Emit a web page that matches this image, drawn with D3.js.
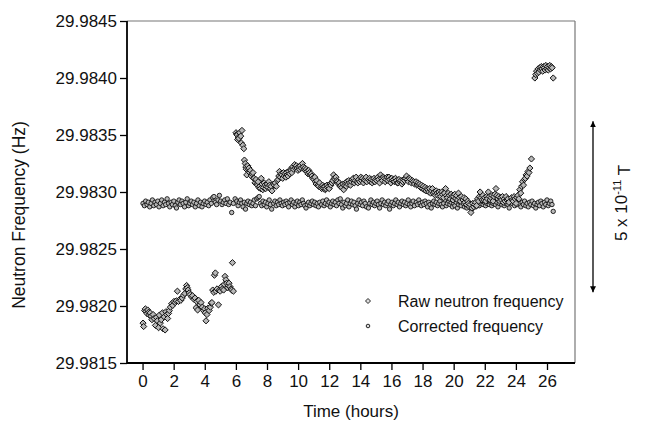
<!DOCTYPE html>
<html>
<head>
<meta charset="utf-8">
<script src="https://cdn.jsdelivr.net/npm/d3@7"></script>
<style>
  body { margin: 0; background: #fff; }
  svg text { font-family: "Liberation Sans", Arial, sans-serif; fill: #111; }
</style>
</head>
<body>
<svg id="chart" width="650" height="423"></svg>
<script>
// frequencies are kept as micro-Hz above BASE (29.98 Hz)
var BASE = 29.98;

// raw neutron frequency: [hours, uHz above base]
var rawData = [
  [0.03,1850],[0.07,1820],[0.14,1960],[0.18,1975],[0.22,1950],[0.28,1935],[0.33,1965],[0.39,1945],[0.44,1920],[0.49,1940],
  [0.55,1910],[0.60,1880],[0.68,1925],[0.75,1890],[0.83,1830],[0.89,1900],[0.95,1870],[1.03,1810],[1.08,1920],[1.14,1850],
  [1.20,1880],[1.28,1940],[1.32,1800],[1.39,1905],[1.45,1790],[1.50,1950],[1.56,1925],[1.61,1890],[1.67,1935],[1.72,1960],
  [1.79,1990],[1.87,2020],[1.94,2005],[2.02,2040],[2.10,2030],[2.17,2045],[2.24,2130],[2.31,2040],[2.40,2060],[2.46,2050],
  [2.55,2070],[2.63,2095],[2.72,2110],[2.78,2150],[2.83,2180],[2.88,2160],[2.93,2140],[3.00,2115],[3.06,2100],[3.15,2080],
  [3.21,2090],[3.29,2060],[3.37,2070],[3.44,1985],[3.48,2040],[3.54,1965],[3.61,2050],[3.69,2010],[3.76,2030],[3.84,1990],
  [3.92,1960],[3.99,1975],[4.03,1940],[4.08,1870],[4.14,1925],[4.20,1980],[4.28,1960],[4.36,1990],[4.42,2025],[4.46,2030],
  [4.51,2140],[4.58,2120],[4.62,2270],[4.68,2290],[4.71,2130],[4.79,2150],[4.88,2010],[4.94,2140],[4.99,2130],[5.07,2170],
  [5.14,2150],[5.21,2140],[5.25,2190],[5.30,2260],[5.36,2230],[5.41,2200],[5.47,2160],[5.52,2180],[5.56,2200],[5.62,2170],
  [5.69,2150],[5.73,2140],[5.78,2380],[5.84,2130],
  [6.01,3520],[6.06,3505],[6.09,3500],[6.11,3460],[6.16,3480],[6.19,3470],[6.25,3520],[6.31,3490],[6.35,3430],[6.39,3540],
  [6.45,3410],[6.51,3380],[6.55,3280],[6.60,3250],[6.64,3220],[6.67,3200],[6.70,3150],[6.76,3230],[6.81,3200],[6.84,3210],
  [6.89,3170],[6.94,3190],[6.99,3140],[7.04,3160],[7.10,3170],[7.14,3120],[7.17,3120],[7.23,3080],[7.29,3110],[7.34,3070],
  [7.39,3060],[7.43,3090],[7.48,3040],[7.53,3050],[7.58,3030],[7.63,3120],[7.68,3070],[7.73,3020],[7.78,3040],[7.82,3080],
  [7.87,3060],[7.92,3030],[7.97,3050],[8.02,3070],[8.07,3040],[8.12,3090],[8.17,3060],[8.22,3030],[8.27,3050],[8.32,3010],
  [8.42,3070],[8.47,3060],[8.53,3080],[8.60,3050],[8.66,3100],[8.72,3110],[8.76,3140],[8.80,3180],[8.86,3130],[8.91,3160],
  [8.96,3150],[9.01,3120],[9.06,3170],[9.11,3140],[9.16,3160],[9.21,3130],[9.25,3170],[9.30,3150],[9.35,3140],[9.41,3180],
  [9.46,3160],[9.51,3200],[9.55,3190],[9.60,3170],[9.65,3220],[9.71,3200],[9.78,3240],[9.83,3210],[9.89,3230],[9.94,3210],
  [9.99,3190],[10.04,3220],[10.09,3200],[10.14,3230],[10.21,3210],[10.28,3250],[10.34,3220],[10.38,3200],[10.43,3210],[10.49,3190],
  [10.53,3200],[10.57,3180],[10.63,3160],[10.68,3190],[10.73,3170],[10.79,3150],[10.84,3160],[10.89,3140],[10.95,3120],[11.02,3110],
  [11.07,3130],[11.11,3090],[11.16,3070],[11.21,3100],[11.27,3060],[11.32,3050],[11.38,3080],[11.47,3040],[11.52,3030],[11.57,3060],
  [11.61,3040],[11.65,3030],[11.71,3050],[11.75,3020],[11.79,3030],[11.85,3060],[11.90,3040],[11.95,3050],[12.00,3030],[12.05,3070],
  [12.11,3060],[12.17,3080],[12.23,3100],[12.28,3150],[12.33,3120],[12.38,3110],[12.43,3130],[12.49,3100],[12.54,3090],[12.60,3070],
  [12.65,3080],[12.70,3050],[12.75,3060],[12.81,3040],[12.87,3070],[12.93,3020],[12.99,3060],[13.05,3080],[13.10,3050],[13.13,3090],
  [13.19,3070],[13.25,3100],[13.31,3080],[13.37,3060],[13.43,3090],[13.49,3110],[13.55,3120],[13.61,3080],[13.67,3100],[13.73,3130],
  [13.79,3090],[13.84,3080],[13.90,3110],[13.97,3090],[14.03,3130],[14.09,3100],[14.14,3120],[14.20,3080],[14.26,3110],[14.32,3100],
  [14.37,3130],[14.42,3090],[14.53,3110],[14.59,3120],[14.64,3090],[14.70,3110],[14.76,3080],[14.82,3100],[14.88,3120],[14.94,3090],
  [15.00,3110],[15.06,3100],[15.12,3130],[15.18,3110],[15.24,3080],[15.30,3150],[15.36,3120],[15.42,3100],[15.48,3130],[15.55,3120],
  [15.60,3090],[15.66,3110],[15.72,3130],[15.78,3100],[15.84,3130],[15.90,3110],[15.96,3080],[16.02,3120],[16.08,3100],[16.14,3110],
  [16.20,3090],[16.26,3120],[16.32,3100],[16.38,3080],[16.43,3080],[16.49,3110],[16.55,3090],[16.61,3100],[16.67,3070],[16.73,3090],
  [16.79,3110],[16.85,3100],[16.91,3120],[16.97,3140],[17.03,3110],[17.09,3090],[17.15,3120],[17.22,3110],[17.28,3080],[17.34,3100],
  [17.42,3090],[17.48,3070],[17.58,3090],[17.64,3060],[17.70,3080],[17.75,3060],[17.81,3070],[17.87,3040],[17.93,3060],[17.99,3030],
  [18.05,3050],[18.11,3020],[18.17,3040],[18.23,3010],[18.29,3030],[18.34,3020],[18.40,3000],[18.46,3030],[18.52,2990],[18.58,3010],
  [18.64,3030],[18.70,2990],[18.76,3000],[18.82,2970],[18.88,3010],[18.93,2990],[18.99,2970],[19.05,3000],[19.11,2980],[19.17,2960],
  [19.23,3000],[19.29,2980],[19.35,2950],[19.41,2990],[19.48,3030],[19.54,2970],[19.60,2950],[19.66,2990],[19.72,2970],[19.78,2940],
  [19.84,2980],[19.90,2960],[19.96,2930],[20.01,2960],[20.07,2980],[20.13,2940],[20.19,2970],[20.25,2930],[20.31,2990],[20.37,2950],
  [20.43,2920],[20.49,2960],[20.60,2930],[20.66,2950],[20.72,2910],[20.78,2940],[20.84,2890],[20.90,2920],[20.95,2900],[21.01,2870],
  [21.06,2890],[21.11,2820],[21.17,2860],[21.23,2900],[21.29,2870],[21.35,2890],[21.41,2910],[21.47,2880],[21.54,2940],[21.60,2920],
  [21.65,2960],[21.70,3000],[21.76,2950],[21.82,2930],[21.88,2970],[21.94,2930],[22.00,2950],[22.06,2920],[22.12,2960],[22.17,2940],
  [22.23,3000],[22.29,2960],[22.35,2930],[22.41,2950],[22.47,2970],[22.53,2920],[22.59,2960],[22.65,2980],[22.72,3030],[22.78,2970],
  [22.84,2940],[22.90,2960],[22.96,2920],[23.02,2950],[23.08,2930],[23.14,2960],[23.19,2910],[23.25,2940],[23.31,2920],[23.37,2960],
  [23.43,2930],[23.49,2940],[23.55,2910],[23.72,2950],[23.78,2930],[23.83,2920],[23.89,2960],[23.95,2940],[24.01,2900],[24.07,2950],
  [24.13,2970],[24.19,2940],[24.25,3020],[24.31,2990],[24.37,3050],[24.43,3090],[24.49,3060],[24.55,3110],[24.61,3120],[24.66,3150],
  [24.72,3140],[24.78,3180],[24.84,3170],[24.90,3210],[25.00,3290],
  [25.22,4000],[25.28,4030],[25.33,4060],[25.38,4040],[25.43,4080],[25.48,4050],[25.53,4090],[25.58,4070],[25.63,4100],[25.68,4080],
  [25.73,4060],[25.78,4100],[25.83,4090],[25.88,4070],[25.93,4110],[25.98,4080],[26.03,4100],[26.08,4070],[26.13,4090],[26.18,4110],
  [26.23,4080],[26.28,4100],[26.33,4090],[26.40,4000]
];

// corrected frequency: [hours, uHz above base]
var corrData = [
  [0.03,2900],[0.12,2880],[0.20,2920],[0.29,2890],[0.37,2910],[0.46,2870],[0.55,2900],[0.63,2930],[0.72,2880],[0.80,2910],
  [0.89,2890],[0.98,2920],[1.06,2870],[1.15,2900],[1.23,2930],[1.32,2880],[1.41,2910],[1.49,2890],[1.58,2940],[1.67,2900],
  [1.75,2870],[1.84,2910],[1.92,2890],[2.01,2920],[2.10,2880],[2.18,2860],[2.27,2910],[2.35,2930],[2.44,2890],[2.53,2920],
  [2.61,2900],[2.70,2870],[2.78,2910],[2.87,2940],[2.96,2880],[3.04,2900],[3.13,2920],[3.21,2890],[3.30,2910],[3.39,2870],
  [3.47,2900],[3.56,2930],[3.64,2880],[3.73,2910],[3.82,2870],[3.90,2900],[3.99,2920],[4.08,2890],[4.16,2910],[4.25,2880],
  [4.33,2930],[4.42,2900],[4.51,2950],[4.59,2960],[4.68,2910],[4.76,2890],[4.85,2930],[4.94,2970],[5.02,2920],[5.11,2890],
  [5.19,2910],[5.28,2930],[5.37,2900],[5.45,2940],[5.54,2890],[5.63,2910],[5.73,2820],[5.84,2900],[5.95,2940],
  [6.06,2920],[6.14,2880],[6.22,2910],[6.30,2930],[6.38,2900],[6.46,2870],[6.54,2910],[6.62,2850],[6.70,2900],[6.78,2920],
  [6.86,2890],[6.94,2910],[7.02,2880],[7.10,2900],[7.18,2930],[7.26,2880],[7.34,2940],[7.42,2950],[7.50,2960],[7.58,2900],
  [7.66,2880],[7.74,2920],[7.82,2890],[7.90,2910],[7.98,2870],[8.06,2900],[8.14,2930],[8.22,2890],[8.30,2850],
  [8.43,2900],[8.51,2920],[8.59,2880],[8.67,2910],[8.75,2890],[8.83,2930],[8.91,2900],[8.99,2880],[9.07,2910],[9.15,2890],
  [9.23,2920],[9.31,2900],[9.39,2870],[9.47,2910],[9.55,2930],[9.63,2890],[9.71,2910],[9.79,2870],[9.87,2900],[9.95,2920],
  [10.03,2880],[10.11,2910],[10.19,2890],[10.27,2930],[10.35,2900],[10.43,2880],[10.51,2860],[10.59,2890],[10.67,2910],[10.75,2880],
  [10.83,2900],[10.91,2920],[10.99,2890],[11.07,2910],[11.15,2880],[11.23,2900],[11.31,2870],[11.39,2910],
  [11.51,2890],[11.59,2920],[11.67,2880],[11.75,2900],[11.83,2930],[11.91,2890],[11.99,2910],[12.07,2870],[12.15,2900],[12.23,2920],
  [12.31,2890],[12.39,2910],[12.47,2880],[12.55,2930],[12.63,2900],[12.71,2940],[12.79,2890],[12.87,2860],[12.95,2910],[13.03,2880],
  [13.11,2900],[13.19,2930],[13.27,2870],[13.35,2900],[13.43,2920],[13.51,2890],[13.59,2910],[13.67,2880],[13.75,2850],[13.83,2900],
  [13.91,2930],[13.99,2890],[14.07,2910],[14.15,2880],[14.23,2920],[14.31,2900],[14.39,2870],
  [14.52,2860],[14.60,2900],[14.68,2930],[14.76,2890],[14.84,2910],[14.92,2880],[15.00,2900],[15.08,2920],[15.16,2890],[15.24,2860],
  [15.32,2900],[15.40,2930],[15.48,2890],[15.56,2910],[15.64,2880],[15.72,2900],[15.80,2920],[15.88,2850],[15.96,2890],[16.04,2910],
  [16.12,2880],[16.20,2900],[16.28,2930],[16.36,2890],[16.44,2910],[16.52,2870],[16.60,2900],[16.68,2920],[16.76,2890],[16.84,2910],
  [16.92,2880],[17.00,2900],[17.08,2930],[17.16,2890],[17.24,2870],[17.32,2900],[17.40,2920],[17.48,2880],
  [17.60,2910],[17.68,2890],[17.76,2930],[17.84,2900],[17.92,2880],[18.00,2910],[18.08,2890],[18.16,2920],[18.24,2900],[18.32,2870],
  [18.40,2910],[18.48,2890],[18.56,2860],[18.64,2900],[18.72,2920],[18.80,2890],[18.88,2910],[18.96,2880],[19.04,2900],[19.12,2920],
  [19.20,2890],[19.28,2870],[19.36,2900],[19.44,2930],[19.52,2880],[19.60,2900],[19.68,2920],[19.76,2890],[19.84,2910],[19.92,2870],
  [20.00,2900],[20.08,2880],[20.16,2910],[20.24,2860],[20.32,2890],[20.40,2910],[20.48,2880],
  [20.61,2900],[20.69,2870],[20.77,2890],[20.85,2860],[20.93,2880],[21.01,2900],[21.09,2870],[21.17,2850],[21.25,2880],[21.33,2900],
  [21.41,2870],[21.49,2890],[21.57,2910],[21.65,2880],[21.73,2900],[21.81,2920],[21.89,2890],[21.97,2910],[22.05,2880],[22.13,2900],
  [22.21,2930],[22.29,2890],[22.37,2910],[22.45,2880],[22.53,2900],[22.61,2920],[22.69,2890],[22.77,2910],[22.85,2870],[22.93,2900],
  [23.01,2930],[23.09,2890],[23.17,2910],[23.25,2880],[23.33,2900],[23.41,2920],[23.49,2890],[23.57,2860],
  [23.76,2900],[23.84,2920],[23.92,2880],[24.00,2910],[24.08,2890],[24.16,2930],[24.24,2900],[24.32,2870],[24.40,2910],[24.48,2890],
  [24.56,2920],[24.64,2880],[24.72,2900],[24.80,2870],[24.88,2910],[24.96,2890],[25.04,2920],[25.12,2880],[25.20,2900],[25.28,2860],
  [25.36,2890],[25.44,2910],[25.52,2880],[25.60,2920],[25.68,2900],[25.76,2870],[25.84,2910],[25.92,2890],[26.00,2930],[26.08,2880],
  [26.16,2900],[26.24,2920],[26.32,2890],[26.40,2830]
];

var xTicks = [0, 2, 4, 6, 8, 10, 12, 14, 16, 18, 20, 22, 24, 26];
var xMinor = [1, 3, 5, 7, 9, 11, 13, 15, 17, 19, 21, 23, 25, 27];
var yTicks = [29.9815, 29.982, 29.9825, 29.983, 29.9835, 29.984, 29.9845];
var yMinor = [29.98175, 29.98225, 29.98275, 29.98325, 29.98375, 29.98425];
var legendLabels = ["Raw neutron frequency", "Corrected frequency"];
var xTitle = "Time (hours)";
var yTitle = "Neutron Frequency (Hz)";
// 5e-11 T scale bar, as a frequency span (Hz)
var fieldSpan = [29.98212, 29.98362];

var svg = d3.select("#chart");
var L = 127, R = 575, T = 21, B = 363;

var x = d3.scaleLinear().domain([-1, 27.8]).range([L, R]);
var y = d3.scaleLinear().domain([29.9815, 29.9845]).range([B, T]);

function freq(d) { return BASE + d[1] * 1e-6; }

// frame: top + right are grey
svg.append("line").attr("x1", L).attr("x2", R).attr("y1", T).attr("y2", T)
  .attr("stroke", "#777").attr("stroke-width", 1.2);
svg.append("line").attr("x1", R).attr("x2", R).attr("y1", T).attr("y2", B)
  .attr("stroke", "#777").attr("stroke-width", 1.2);

// axes
var gx = svg.append("g").attr("transform", "translate(0," + B + ")");
gx.call(d3.axisBottom(x).tickValues(xMinor).tickSize(4).tickFormat(""));
gx.call(d3.axisBottom(x).tickValues(xTicks).tickSize(7).tickPadding(5).tickFormat(d3.format("d")));
var gy = svg.append("g").attr("transform", "translate(" + L + ",0)");
gy.call(d3.axisLeft(y).tickValues(yMinor).tickSize(4).tickFormat(""));
gy.call(d3.axisLeft(y).tickValues(yTicks).tickSize(7).tickPadding(3).tickFormat(d3.format(".4f")));

svg.selectAll(".domain").remove();
svg.selectAll(".tick line").attr("stroke", "#000").attr("stroke-width", 1.3);
svg.selectAll(".tick text").style("font-size", "17px").attr("fill", "#111");

svg.append("line").attr("x1", L).attr("x2", R).attr("y1", B).attr("y2", B)
  .attr("stroke", "#000").attr("stroke-width", 1.8);
svg.append("line").attr("x1", L).attr("x2", L).attr("y1", T).attr("y2", B)
  .attr("stroke", "#000").attr("stroke-width", 1.8);

// titles
svg.append("text").attr("x", (L + R) / 2).attr("y", 417)
  .attr("text-anchor", "middle").style("font-size", "17px").text(xTitle);
svg.append("text").attr("transform", "translate(25,215) rotate(-90)")
  .attr("text-anchor", "middle").style("font-size", "17.5px").text(yTitle);

// markers
var diamond = function (r) { return "M0," + (-r) + "L" + r + ",0L0," + r + "L" + (-r) + ",0Z"; };

svg.append("g").selectAll("circle").data(corrData).join("circle")
  .attr("cx", function (d) { return x(d[0]); })
  .attr("cy", function (d) { return y(freq(d)); })
  .attr("r", 2.2)
  .attr("fill", "#b8b8b8").attr("stroke", "#111").attr("stroke-width", 0.9);

svg.append("g").selectAll("path").data(rawData).join("path")
  .attr("transform", function (d) { return "translate(" + x(d[0]) + "," + y(freq(d)) + ")"; })
  .attr("d", diamond(3.1))
  .attr("fill", "#b8b8b8").attr("stroke", "#111").attr("stroke-width", 1);

// legend
var lg = svg.append("g");
lg.append("path").attr("transform", "translate(368,301)").attr("d", diamond(2.5))
  .attr("fill", "#ddd").attr("stroke", "#111").attr("stroke-width", 0.9);
lg.append("circle").attr("cx", 368).attr("cy", 326).attr("r", 1.8)
  .attr("fill", "#ddd").attr("stroke", "#111").attr("stroke-width", 0.9);
lg.selectAll("text").data(legendLabels).join("text")
  .attr("x", 398).attr("y", function (d, i) { return 307 + i * 25; })
  .style("font-size", "16px").text(function (d) { return d; });

// 5e-11 T scale arrow
var defs = svg.append("defs");
defs.append("marker").attr("id", "ah").attr("viewBox", "0 0 10 10")
  .attr("refX", 10).attr("refY", 5).attr("markerWidth", 6).attr("markerHeight", 8)
  .attr("orient", "auto-start-reverse").attr("markerUnits", "userSpaceOnUse")
  .append("path").attr("d", "M0,0L10,5L0,10Z").attr("fill", "#000");
svg.append("line").attr("x1", 593).attr("x2", 593)
  .attr("y1", y(fieldSpan[1])).attr("y2", y(fieldSpan[0]))
  .attr("stroke", "#000").attr("stroke-width", 1.3)
  .attr("marker-start", "url(#ah)").attr("marker-end", "url(#ah)");

var ft = svg.append("text").attr("transform", "translate(627,203) rotate(-90)")
  .attr("text-anchor", "middle").style("font-size", "17px");
ft.append("tspan").text("5 x 10");
ft.append("tspan").attr("dy", "-0.55em").style("font-size", "11px").text("-11");
ft.append("tspan").attr("dy", "0.55em").text(" T");
</script>
</body>
</html>
